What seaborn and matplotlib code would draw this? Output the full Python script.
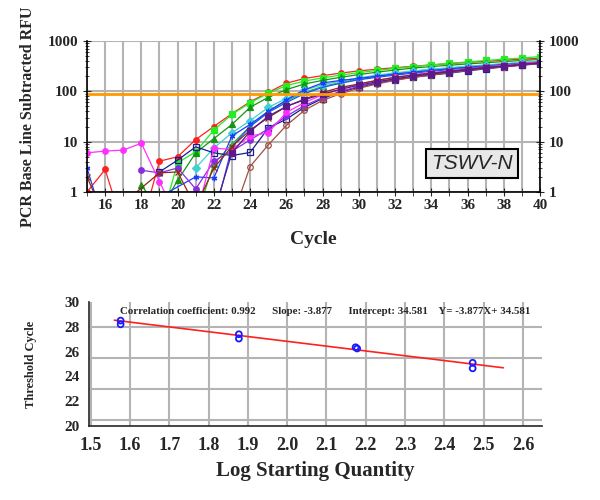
import numpy as np
import matplotlib
matplotlib.use("Agg")
from matplotlib import pyplot as plt
from matplotlib.ticker import MultipleLocator, LogLocator, NullFormatter
import seaborn as sns

# amplification curves, cycles 15..40 (nan = not shown, 0.2 = below axis)
nan = np.nan
cycles = list(range(15, 41))
red = [1.0, 2.8, 0.2, 0.2, 4.1, 5.0, 11, 20, 36, 62, 95, 145, 180, 205, 230, 255, 275, 295, 315, 335, 355, 375, 395, 415, 435, 455]
lime = [nan, nan, nan, nan, 0.2, 3.8, 6.3, 17, 35, 59, 92, 130, 160, 185, 210, 235, 260, 285, 310, 335, 360, 385, 410, 435, 460, 490]
dgreen = [nan, nan, nan, 1.4, 0.4, 1.7, 6.0, 11.5, 22, 48, 76, 108, 140, 165, 190, 215, 240, 265, 290, 310, 330, 350, 370, 390, 410, 430]
green2 = [nan, nan, nan, nan, nan, nan, 0.3, 3.6, 9.0, 20, 40, 65, 95, 125, 150, 175, 200, 225, 250, 270, 290, 310, 330, 350, 370, 390]
cyan = [nan, nan, nan, nan, nan, nan, 3.0, 7.5, 15, 26, 48, 72, 105, 135, 160, 185, 210, 232, 255, 275, 295, 315, 335, 355, 375, 400]
blue = [3.0, 0.2, nan, nan, nan, nan, 2.0, 1.9, 13, 22, 40, 67, 107, 147, 165, 180, 200, 220, 240, 260, 280, 300, 320, 340, 360, 380]
rblue = [nan, nan, nan, nan, nan, nan, nan, 0.3, 8.0, 20, 38, 60, 90, 120, 145, 170, 190, 210, 230, 250, 270, 290, 310, 330, 350, 370]
navy = [nan, nan, nan, nan, 2.5, 4.3, 7.9, 6.0, 5.3, 6.1, 18.5, 28, 48, 72, 98, 120, 145, 170, 190, 210, 230, 255, 280, 305, 330, 355]
purple = [nan, nan, nan, 2.7, 2.4, 3.0, 1.15, 4.1, 6.5, 10.8, 18, 32, 52, 75, 100, 125, 150, 175, 200, 220, 240, 262, 285, 310, 335, 360]
magenta = [6.0, 6.5, 6.8, 9.3, 1.6, 0.3, 0.3, 7.4, 7.0, 13, 15, 38, 60, 85, 110, 140, 165, 190, 215, 235, 255, 280, 305, 330, 355, 385]
brown = [2.0, 0.3, nan, nan, 2.4, 2.5, 0.5, 3.0, 8.0, 17, 30, 50, 70, 95, 120, 140, 165, 190, 210, 230, 250, 275, 300, 320, 345, 370]
brown2 = [nan, nan, nan, nan, nan, nan, nan, nan, 0.3, 3.2, 8.6, 21, 42, 66, 90, 115, 140, 165, 190, 210, 235, 260, 285, 310, 335, 360]
indigo = [nan, nan, nan, nan, nan, nan, nan, 0.4, 6.0, 16, 32, 50, 68, 88, 110, 132, 155, 178, 200, 222, 245, 268, 292, 316, 340, 365]
threshold = 88

# standard curve
log_qty = [1.576, 1.576, 1.877, 1.877, 2.174, 2.178, 2.472, 2.472]
ct = [28.5, 28.2, 27.4, 27.05, 26.35, 26.25, 25.1, 24.65]
slope = -3.877
intercept = 34.581
reg_x = [1.56, 2.55]

sns.set_style("white")
plt.rcParams["font.family"] = ["Liberation Serif", "DejaVu Serif"]
plt.rcParams["font.weight"] = "bold"

fig = plt.figure(figsize=(6, 5), dpi=100)
ax1 = fig.add_axes([0.145, 0.616, 0.755, 0.302])
ax2 = fig.add_axes([0.148, 0.148, 0.755, 0.248])

styles = [
    (red, "#ff2020", "o", True),
    (lime, "#22ee22", "s", True),
    (dgreen, "#149614", "^", True),
    (green2, "#2db82d", "^", True),
    (cyan, "#40d0d0", "D", True),
    (blue, "#1a3cff", (6, 2, 0), True),
    (rblue, "#2050ff", "", True),
    (navy, "#1c1c90", "s", False),
    (purple, "#8a2be2", "o", True),
    (magenta, "#ff30ff", "o", True),
    (brown, "#8b2a10", "x", True),
    (brown2, "#a05040", "o", False),
    (indigo, "#5a1a8a", "s", True),
]
for vals, col, mk, filled in styles:
    sns.lineplot(x=cycles, y=vals, ax=ax1, color=col, lw=0.9, marker=mk if mk else None,
                 markersize=4, markeredgecolor=col,
                 markerfacecolor=col if filled else "none", markeredgewidth=0.9,
                 estimator=None, sort=False)
ax1.axhline(threshold, color="#ff9900", lw=2)

ax1.set_yscale("log")
ax1.set_xlim(15, 40)
ax1.set_ylim(1, 1000)
ax1.xaxis.set_minor_locator(MultipleLocator(1))
ax1.set_xticks(range(16, 41, 2))
ax1.yaxis.set_minor_locator(LogLocator(base=10, subs=np.arange(2, 10)))
ax1.yaxis.set_minor_formatter(NullFormatter())
ax1.set_yticks([1, 10, 100, 1000], ["1", "10", "100", "1000"])
ax1.grid(True, which="major", axis="y", color="#b4b4b4", lw=1.5)
ax1.grid(True, which="both", axis="x", color="#b4b4b4", lw=1.5)
ax1.tick_params(axis="both", which="both", direction="inout", labelsize=11)
ax1.tick_params(axis="y", which="both", left=True, right=True, labelright=True, length=6)
ax1.tick_params(axis="y", which="minor", length=3)
ax1.tick_params(axis="x", which="both", bottom=True, length=6, pad=2)
for s in ["left", "right", "bottom"]:
    ax1.spines[s].set_color("black")
    ax1.spines[s].set_linewidth(1.2)
ax1.spines["top"].set_visible(False)
ax1.set_xlabel("Cycle", fontsize=14, fontweight="bold", labelpad=14)
ax1.set_ylabel("PCR Base Line Subtracted RFU", fontsize=11.5, fontweight="bold", labelpad=8)
ax1.text(0.85, 0.19, "TSWV-N", transform=ax1.transAxes, ha="center", va="center",
         fontsize=15, style="italic", fontweight="normal", family="Liberation Sans",
         bbox=dict(boxstyle="square,pad=0.25", facecolor="#e8e8e8", edgecolor="black", lw=1.5))

sns.scatterplot(x=log_qty, y=ct, ax=ax2, marker="o", s=18, facecolor="none",
                edgecolor="#1a1aff", linewidth=1.3, zorder=3)
sns.lineplot(x=reg_x, y=[intercept + slope * v for v in reg_x], ax=ax2, color="#ff2020", lw=1.2)
ax2.set_xlim(1.495, 2.648)
ax2.set_ylim(20, 30)
ax2.xaxis.set_major_locator(MultipleLocator(0.1))
ax2.xaxis.set_minor_locator(MultipleLocator(0.05))
ax2.yaxis.set_major_locator(MultipleLocator(2))
ax2.yaxis.set_minor_locator(MultipleLocator(1))
ax2.grid(True, which="major", axis="x", color="#b4b4b4", lw=1.5)
for gy in [20.5, 23, 25.5, 28]:
    ax2.axhline(gy, color="#b4b4b4", lw=1.5, zorder=0)
ax2.tick_params(axis="both", which="both", direction="inout", length=6)
ax2.tick_params(axis="x", labelsize=13, pad=5)
ax2.tick_params(axis="y", labelsize=11)
ax2.tick_params(which="minor", length=5)
ax2.spines["top"].set_visible(False)
ax2.spines["right"].set_visible(False)
ax2.spines["left"].set_linewidth(1.2)
ax2.spines["bottom"].set_linewidth(1.2)
ax2.set_xlabel("Log Starting Quantity", fontsize=15, fontweight="bold", labelpad=5)
ax2.set_ylabel("Threshold Cycle", fontsize=9, fontweight="bold", labelpad=20)
ax2.text(1.575, 29.25, "Correlation coefficient: 0.992      Slope: -3.877      "
         "Intercept: 34.581    Y= -3.877X+ 34.581", fontsize=7.8, fontweight="bold",
         va="center")

fig.savefig("out.png", dpi=100)
